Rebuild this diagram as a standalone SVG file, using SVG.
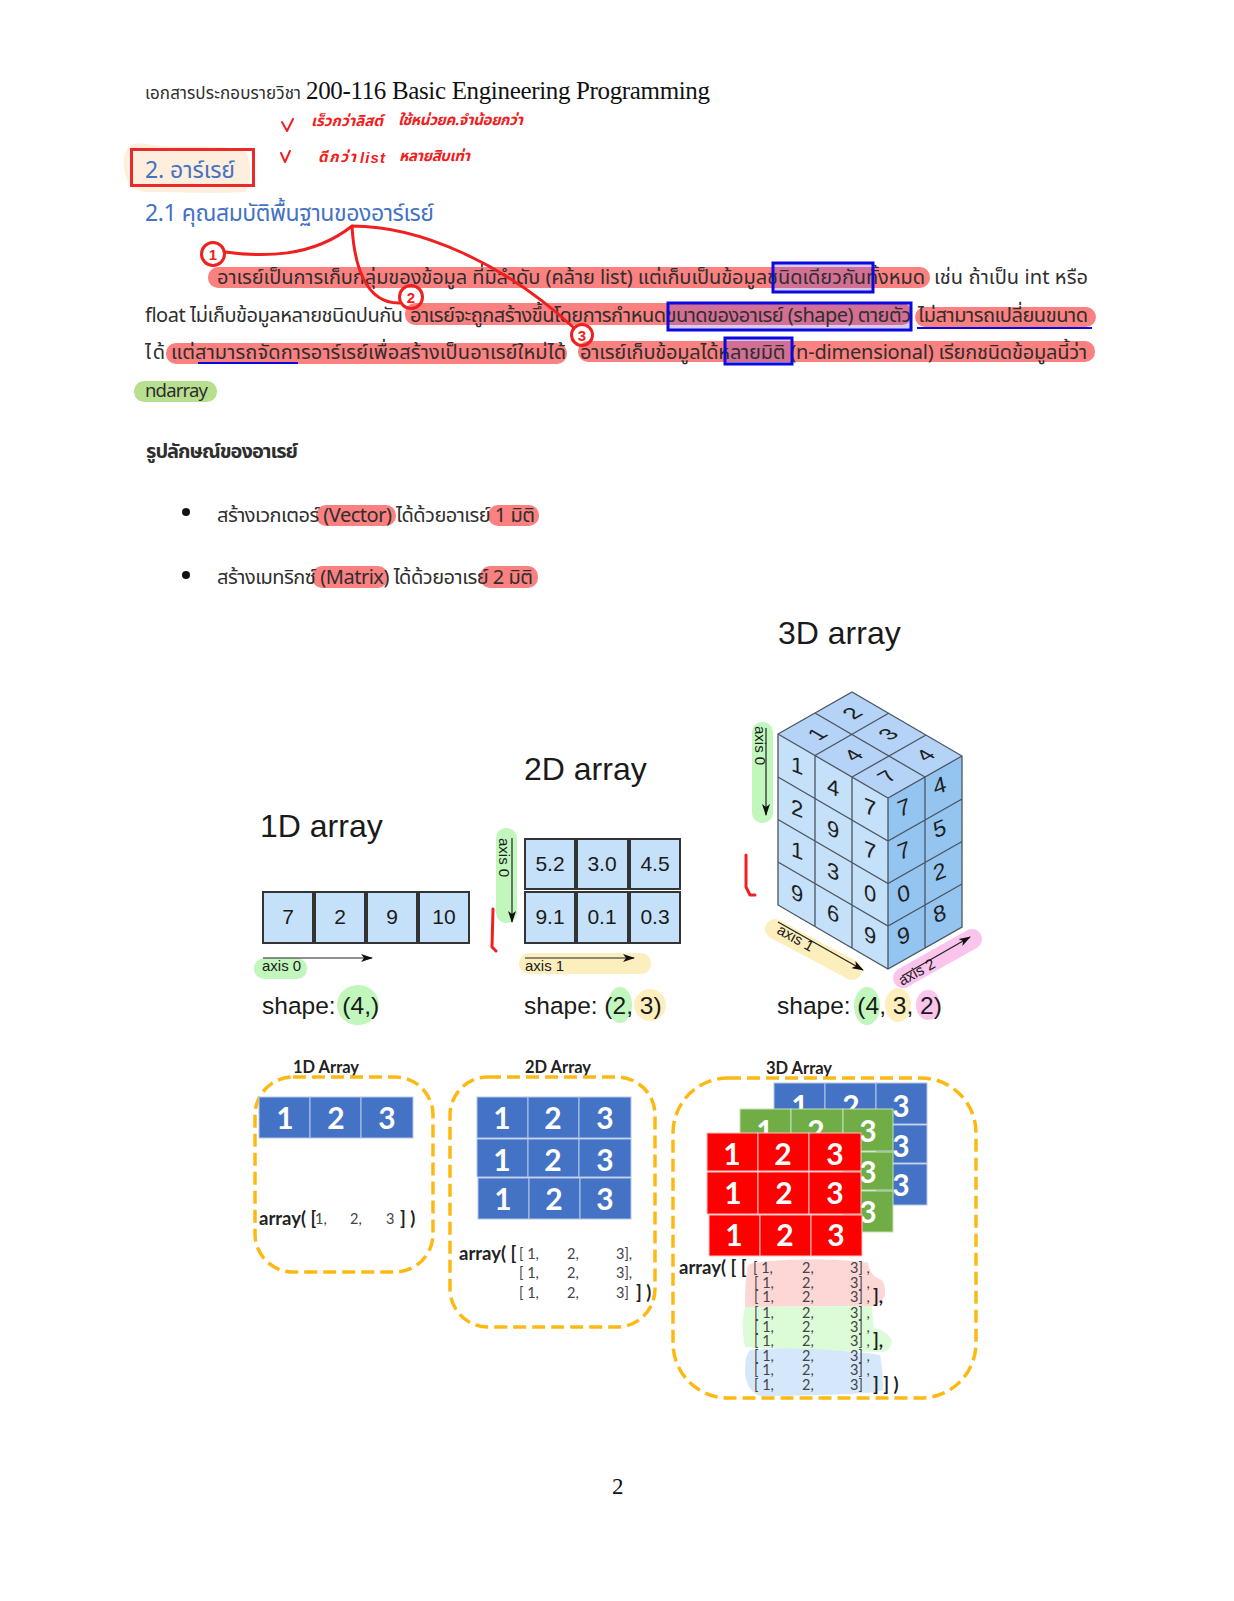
<svg xmlns="http://www.w3.org/2000/svg" width="1234" height="1601" viewBox="0 0 1234 1601">
<style>
text{font-family:"Noto Sans","Liberation Sans",sans-serif;fill:#2e2e2e}
.th{font-family:"Noto Sans Thai","Noto Sans","DejaVu Sans",sans-serif;font-size:20px}
.tm{font-family:"Liberation Serif",serif;fill:#111}
.ar{font-family:"Liberation Sans",sans-serif;fill:#1a1a1a}
.title{font-size:32px}
.shape{font-size:24.500px}
.ax{font-size:15px}
.num{font-size:21px;text-anchor:middle}
.cell{fill:#c5e0f9;stroke:#333;stroke-width:2}
.hl{fill:#fb8080}
.gr{fill:#c1f7bd}
.ye{fill:#fdefbd}
.pk{fill:#fac4ec}
.tint{fill:#6a46c8;fill-opacity:.28}
.bb{fill:none;stroke:#0a0ae0;stroke-width:3}
.ul{stroke:#0a0ae0;stroke-width:2;fill:none}
.red{stroke:#f02020;stroke-width:3;fill:none;stroke-linecap:round;stroke-linejoin:round}
.hw{font-family:"Noto Sans Thai","DejaVu Sans",sans-serif;fill:#f02020;font-size:15px;font-weight:700;font-style:italic}
.cn{font-family:"Liberation Sans",sans-serif;fill:#f02020;font-size:15px;font-weight:700;text-anchor:middle}
.ln{stroke:#222;stroke-width:1.2;fill:none;marker-end:url(#arr)}
.grid{stroke:#4b5560;stroke-width:1.3;fill:none}
.d3{font-size:22px;text-anchor:middle;font-family:"Liberation Sans",sans-serif;fill:#1f1f1f}
.dash{fill:none;stroke:#fdb913;stroke-width:3.5;stroke-dasharray:13 6}
.cap{font-family:Lato,"Liberation Sans",sans-serif;font-weight:700;font-size:16.500px;fill:#222}
.arr{font-family:Lato,"Liberation Sans",sans-serif;font-weight:700;font-size:18.500px;fill:#222}
.sm{font-family:Lato,"Liberation Sans",sans-serif;font-size:14.500px;fill:#444}
.b{fill:#4472c4;stroke:#b4c7e7;stroke-width:1}
.g{fill:#70ad47;stroke:#c5e0b4;stroke-width:1}
.r{fill:#ff0000;stroke:#ffc0c0;stroke-width:1}
.w{font-family:Lato,"Liberation Sans",sans-serif;font-weight:700;font-size:30px;fill:#fff;text-anchor:middle}
</style>
<defs>
<marker id="arr" viewBox="0 0 12 8" refX="11" refY="4" markerWidth="12" markerHeight="8" markerUnits="userSpaceOnUse" orient="auto"><path d="M0 0L12 4L0 8L3 4Z" fill="#111"/></marker>
</defs>

<g id="header">
<text class="th" x="145" y="99" style="font-size:17px" textLength="156">เอกสารประกอบรายวิชา</text>
<text class="tm" x="306" y="99" font-size="25" textLength="404">200-116 Basic Engineering Programming</text>
</g>

<g id="handwriting">
<path class="red" d="M282 122L287 131L293 119M281 153L285 162L290 151" style="stroke-width:2"/>
<text class="hw" x="311" y="126" textLength="72">เร็วกว่าลิสต์</text>
<text class="hw" x="398" y="125" textLength="125">ใช้หน่วยค.จำน้อยกว่า</text>
<text class="hw" x="318" y="162" textLength="38">ดีกว่า</text>
<text class="hw" x="360" y="163" textLength="25" style="font-family:'Liberation Sans',sans-serif">list</text>
<text class="hw" x="399" y="161" textLength="71">หลายสิบเท่า</text>
</g>

<g id="heading">
<path d="M124 166C122 146 134 142 146 144C180 150 220 142 246 152C252 165 252 180 246 192C210 194 170 192 145 192C130 190 125 180 124 166Z" fill="#fdeedd"/>
<rect x="131.500" y="149.500" width="122" height="36" fill="none" stroke="#ea2a2a" stroke-width="3"/>
<text class="th" x="145" y="178" style="font-size:23px;fill:#4472c4" textLength="90">2. อาร์เรย์</text>
<text class="th" x="145" y="221" style="font-size:23px;fill:#4472c4" textLength="289">2.1 คุณสมบัติพื้นฐานของอาร์เรย์</text>
</g>

<g id="highlights">
<rect class="hl" x="208" y="267" width="722" height="21" rx="10"/>
<rect class="hl" x="405" y="303" width="507" height="22" rx="10"/>
<rect class="hl" x="915" y="307" width="181" height="20" rx="10"/>
<rect class="hl" x="166" y="343" width="401" height="21" rx="10"/>
<rect class="hl" x="578" y="341" width="517" height="21" rx="10"/>
<rect x="134" y="381" width="83" height="21" rx="10" fill="#b8df90"/>
<rect class="hl" x="316" y="505" width="80" height="21" rx="10"/>
<rect class="hl" x="488" y="505" width="51" height="21" rx="10"/>
<rect class="hl" x="312" y="566" width="76" height="22" rx="10"/>
<rect class="hl" x="480" y="566" width="58" height="22" rx="10"/>
<rect class="tint" x="773" y="263" width="100" height="29"/>
<rect class="tint" x="668" y="303" width="243" height="27"/>
<rect class="tint" x="725" y="338" width="67" height="26"/>
</g>

<g id="paragraph">
<text class="th" x="217" y="284" textLength="708">อาเรย์เป็นการเก็บกลุ่มของข้อมูล ที่มีลำดับ (คล้าย list) แต่เก็บเป็นข้อมูลชนิดเดียวกันทั้งหมด</text>
<text class="th" x="934" y="284" textLength="154">เช่น ถ้าเป็น int หรือ</text>
<text class="th" x="145" y="322" textLength="258">float ไม่เก็บข้อมูลหลายชนิดปนกัน</text>
<text class="th" x="410" y="322" textLength="501">อาเรย์จะถูกสร้างขึ้นโดยการกำหนดขนาดของอาเรย์ (shape) ตายตัว</text>
<text class="th" x="918" y="322" textLength="170">ไม่สามารถเปลี่ยนขนาด</text>
<text class="th" x="145" y="359" textLength="20">ได้</text>
<text class="th" x="171" y="359" textLength="395">แต่สามารถจัดการอาร์เรย์เพื่อสร้างเป็นอาเรย์ใหม่ได้</text>
<text class="th" x="580" y="359" textLength="507">อาเรย์เก็บข้อมูลได้หลายมิติ (n-dimensional) เรียกชนิดข้อมูลนี้ว่า</text>
<text class="th" x="145" y="397" style="font-size:18.500px" textLength="63">ndarray</text>
</g>

<g id="annotations">
<rect class="bb" x="773" y="263" width="100" height="29"/>
<rect class="bb" x="668" y="303" width="243" height="27"/>
<rect class="bb" x="725" y="338" width="67" height="26"/>
<path class="ul" d="M917 328H1092M198 363H298"/>
<path class="red" d="M225 252C262 257 312 258 352 226C354 262 364 304 400 303M352 226C420 226 503 263 573 327"/>
<circle class="red" cx="213" cy="254" r="11.500"/>
<circle class="red" cx="411" cy="297" r="11.500"/>
<circle class="red" cx="582" cy="335" r="10.500"/>
<text class="cn" x="213" y="260">1</text>
<text class="cn" x="411" y="303">2</text>
<text class="cn" x="582" y="341">3</text>
</g>

<g id="features">
<text class="th" x="145" y="458" style="font-weight:700" textLength="152">รูปลักษณ์ของอาเรย์</text>
<circle cx="186" cy="512" r="4" fill="#111"/>
<text class="th" x="217" y="522" textLength="318">สร้างเวกเตอร์ (Vector) ได้ด้วยอาเรย์ 1 มิติ</text>
<circle cx="186" cy="575" r="4" fill="#111"/>
<text class="th" x="217" y="584" textLength="316">สร้างเมทริกซ์ (Matrix) ได้ด้วยอาเรย์ 2 มิติ</text>
</g>

<g id="array-1d">
<text class="ar title" x="260" y="837">1D array</text>
<rect class="cell" x="263" y="892" width="50" height="51"/><rect class="cell" x="315" y="892" width="50" height="51"/><rect class="cell" x="367" y="892" width="50" height="51"/><rect class="cell" x="419" y="892" width="50" height="51"/>
<text class="ar num" x="288" y="924">7</text><text class="ar num" x="340" y="924">2</text><text class="ar num" x="392" y="924">9</text><text class="ar num" x="444" y="924">10</text>
<rect class="gr" x="254" y="958" width="53" height="21" rx="10"/>
<path class="ln" d="M263 958H372"/>
<text class="ar ax" x="262" y="971">axis 0</text>
<ellipse class="gr" cx="358" cy="1005" rx="21" ry="20"/>
<text class="ar shape" x="262" y="1014">shape: (4,)</text>
</g>

<g id="array-2d">
<text class="ar title" x="524" y="780">2D array</text>
<rect class="cell" x="525" y="839" width="50" height="50"/><rect class="cell" x="577" y="839" width="51" height="50"/><rect class="cell" x="630" y="839" width="50" height="50"/>
<rect class="cell" x="525" y="892" width="50" height="51"/><rect class="cell" x="577" y="892" width="51" height="51"/><rect class="cell" x="630" y="892" width="50" height="51"/>
<text class="ar num" x="550" y="871">5.2</text><text class="ar num" x="602" y="871">3.0</text><text class="ar num" x="655" y="871">4.5</text>
<text class="ar num" x="550" y="924">9.1</text><text class="ar num" x="602" y="924">0.1</text><text class="ar num" x="655" y="924">0.3</text>
<rect class="gr" x="496" y="828" width="21" height="95" rx="10"/>
<path class="ln" d="M512 838V922"/>
<text class="ar ax" transform="translate(499 838) rotate(90)">axis 0</text>
<path class="red" d="M493 909L492 947L496 951"/>
<rect class="ye" x="519" y="953" width="132" height="21" rx="10"/>
<path class="ln" d="M525 958H634"/>
<text class="ar ax" x="525" y="971">axis 1</text>
<ellipse class="gr" cx="620" cy="1005" rx="12" ry="18"/>
<ellipse class="ye" cx="650" cy="1005" rx="16" ry="16"/>
<text class="ar shape" x="524" y="1014">shape: (2, 3)</text>
</g>

<g id="array-3d">
<text class="ar title" x="778" y="644">3D array</text>
<polygon points="778,734 888,798 888,969 778,905" fill="#c5e0f9"/>
<polygon points="888,798 962,756 962,927 888,969" fill="#94c4f0"/>
<polygon points="778,734 852,692 962,756 888,798" fill="#b5d3f7"/>
<path class="grid" d="M778 734L852 692L962 756L962 927L888 969L778 905ZM888 798V969M778 734L888 798L962 756M815 755.500V926.500M852 777V948M778 777L888 841L962 799M778 819.500L888 883.500L962 841.500M778 862L888 926L962 884M925 777V948M815 713L925 777M815 755.500L889 713M852 777L926 735"/>
<g>
<text class="d3" transform="matrix(1 .4 0 1 797 773)">1</text><text class="d3" transform="matrix(1 .4 0 1 797 816)">2</text><text class="d3" transform="matrix(1 .4 0 1 797 858)">1</text><text class="d3" transform="matrix(1 .4 0 1 797 901)">9</text>
<text class="d3" transform="matrix(1 .4 0 1 833 795)">4</text><text class="d3" transform="matrix(1 .4 0 1 833 837)">9</text><text class="d3" transform="matrix(1 .4 0 1 833 879)">3</text><text class="d3" transform="matrix(1 .4 0 1 833 921)">6</text>
<text class="d3" transform="matrix(1 .4 0 1 870 815)">7</text><text class="d3" transform="matrix(1 .4 0 1 870 858)">7</text><text class="d3" transform="matrix(1 .4 0 1 870 901)">0</text><text class="d3" transform="matrix(1 .4 0 1 870 943)">9</text>
<text class="d3" transform="matrix(1 -.4 .2 1 905 815)">7</text><text class="d3" transform="matrix(1 -.4 .2 1 905 858)">7</text><text class="d3" transform="matrix(1 -.4 .2 1 905 901)">0</text><text class="d3" transform="matrix(1 -.4 .2 1 905 943)">9</text>
<text class="d3" transform="matrix(1 -.4 .2 1 941 793)">4</text><text class="d3" transform="matrix(1 -.4 .2 1 941 836)">5</text><text class="d3" transform="matrix(1 -.4 .2 1 941 879)">2</text><text class="d3" transform="matrix(1 -.4 .2 1 941 921)">8</text>
<text class="d3" dy=".35em" transform="matrix(.87 -.5 .87 .5 817 734)">1</text><text class="d3" dy=".35em" transform="matrix(.87 -.5 .87 .5 852 713)">2</text><text class="d3" dy=".35em" transform="matrix(.87 -.5 .87 .5 853 755)">4</text><text class="d3" dy=".35em" transform="matrix(.87 -.5 .87 .5 888 734)">3</text><text class="d3" dy=".35em" transform="matrix(.87 -.5 .87 .5 887 776)">7</text><text class="d3" dy=".35em" transform="matrix(.87 -.5 .87 .5 925 755)">4</text>
</g>
<rect class="gr" x="752" y="722" width="21" height="101" rx="10"/>
<path class="ln" d="M766 728V815"/>
<text class="ar ax" transform="translate(755 726) rotate(90)">axis 0</text>
<path class="red" d="M746 855V887L750 895H755"/>
<path d="M775 929L852 970" stroke="#fdefbd" stroke-width="20" stroke-linecap="round" fill="none"/>
<path d="M903 978L972 939" stroke="#fac4ec" stroke-width="20" stroke-linecap="round" fill="none"/>
<path class="ln" d="M778 922L863 970"/>
<path class="ln" d="M902 976L970 937"/>
<text class="ar ax" transform="translate(776 933) rotate(29)">axis 1</text>
<text class="ar ax" transform="translate(902 986) rotate(-29)">axis 2</text>
<ellipse class="gr" cx="867" cy="1006" rx="13" ry="19"/>
<ellipse class="ye" cx="898" cy="1005" rx="13" ry="17"/>
<ellipse class="pk" cx="928" cy="1005" rx="12" ry="15"/>
<text class="ar shape" x="777" y="1014">shape: (4, 3, 2)</text>
</g>

<g id="numpy-1d">
<text class="cap" x="293" y="1073">1D Array</text>
<rect class="dash" x="255" y="1077" width="178" height="195" rx="38"/>
<rect class="b" x="259" y="1097" width="51" height="41"/><rect class="b" x="310" y="1097" width="51" height="41"/><rect class="b" x="361" y="1097" width="52" height="41"/>
<text class="w" x="285" y="1129">1</text><text class="w" x="336" y="1129">2</text><text class="w" x="387" y="1129">3</text>
<text class="arr" x="259" y="1225">array( [</text>
<text class="sm" x="315" y="1224">1,</text><text class="sm" x="350" y="1224">2,</text><text class="sm" x="386" y="1224">3</text>
<text class="arr" x="400" y="1225">] )</text>
</g>

<g id="numpy-2d">
<text class="cap" x="525" y="1073">2D Array</text>
<rect class="dash" x="450" y="1077" width="205" height="250" rx="38"/>
<rect class="b" x="477" y="1097" width="51" height="41"/><rect class="b" x="528" y="1097" width="51" height="41"/><rect class="b" x="579" y="1097" width="52" height="41"/>
<rect class="b" x="477" y="1139" width="51" height="38"/><rect class="b" x="528" y="1139" width="51" height="38"/><rect class="b" x="579" y="1139" width="52" height="38"/>
<rect class="b" x="478" y="1178" width="51" height="41"/><rect class="b" x="529" y="1178" width="51" height="41"/><rect class="b" x="580" y="1178" width="51" height="41"/>
<text class="w" x="502" y="1129">1</text><text class="w" x="553" y="1129">2</text><text class="w" x="605" y="1129">3</text>
<text class="w" x="502" y="1171">1</text><text class="w" x="553" y="1171">2</text><text class="w" x="605" y="1171">3</text>
<text class="w" x="503" y="1210">1</text><text class="w" x="554" y="1210">2</text><text class="w" x="605" y="1210">3</text>
<text class="arr" x="459" y="1260">array( [</text>
<text class="sm" x="519" y="1259">[ 1,</text><text class="sm" x="567" y="1259">2,</text><text class="sm" x="616" y="1259">3],</text>
<text class="sm" x="519" y="1278">[ 1,</text><text class="sm" x="567" y="1278">2,</text><text class="sm" x="616" y="1278">3],</text>
<text class="sm" x="519" y="1298">[ 1,</text><text class="sm" x="567" y="1298">2,</text><text class="sm" x="616" y="1298">3]</text>
<text class="arr" x="636" y="1299">] )</text>
</g>

<g id="numpy-3d">
<text class="cap" x="766" y="1074">3D Array</text>
<rect class="dash" x="673" y="1078" width="303" height="320" rx="55"/>
<rect class="b" x="774" y="1083" width="51" height="41"/><rect class="b" x="825" y="1083" width="51" height="41"/><rect class="b" x="876" y="1083" width="51" height="41"/>
<rect class="b" x="876" y="1125" width="51" height="38"/><rect class="b" x="876" y="1164" width="51" height="41"/>
<text class="w" x="800" y="1117">1</text><text class="w" x="851" y="1117">2</text><text class="w" x="901" y="1117">3</text>
<text class="w" x="901" y="1157">3</text><text class="w" x="901" y="1196">3</text>
<rect class="g" x="740" y="1109" width="51" height="42"/><rect class="g" x="791" y="1109" width="52" height="42"/><rect class="g" x="843" y="1109" width="50" height="42"/>
<rect class="g" x="843" y="1152" width="50" height="38"/><rect class="g" x="843" y="1191" width="50" height="41"/>
<text class="w" x="765" y="1142">1</text><text class="w" x="816" y="1142">2</text><text class="w" x="868" y="1142">3</text>
<text class="w" x="868" y="1183">3</text><text class="w" x="868" y="1223">3</text>
<rect class="r" x="707" y="1133" width="51" height="38"/><rect class="r" x="758" y="1133" width="51" height="38"/><rect class="r" x="809" y="1133" width="52" height="38"/>
<rect class="r" x="707" y="1172" width="51" height="42"/><rect class="r" x="758" y="1172" width="51" height="42"/><rect class="r" x="809" y="1172" width="52" height="42"/>
<rect class="r" x="709" y="1215" width="51" height="41"/><rect class="r" x="760" y="1215" width="51" height="41"/><rect class="r" x="811" y="1215" width="51" height="41"/>
<text class="w" x="732" y="1165">1</text><text class="w" x="783" y="1165">2</text><text class="w" x="835" y="1165">3</text>
<text class="w" x="733" y="1204">1</text><text class="w" x="784" y="1204">2</text><text class="w" x="835" y="1204">3</text>
<text class="w" x="734" y="1246">1</text><text class="w" x="785" y="1246">2</text><text class="w" x="836" y="1246">3</text>
<path d="M748 1265C760 1258 850 1258 868 1263Q870 1276 880 1279Q886 1282 885 1296Q880 1305 872 1306L745 1307Q745 1280 748 1265Z" fill="#fdd6d6"/>
<path d="M745 1307L872 1306Q873 1325 874 1328Q890 1332 892 1342Q890 1352 880 1352Q800 1350 745 1347Q740 1325 745 1307Z" fill="#dcfcd8"/>
<path d="M750 1350Q800 1345 880 1355Q883 1370 883 1390Q875 1395 760 1396Q745 1390 745 1370Q745 1355 750 1350Z" fill="#d5e8fb"/>
<text class="arr" x="679" y="1274">array( [ [</text>
<g>
<text class="sm" x="753" y="1273">[ 1,</text><text class="sm" x="802" y="1273">2,</text><text class="sm" x="850" y="1273">3] ,</text>
<text class="sm" x="754" y="1288">[ 1,</text><text class="sm" x="802" y="1288">2,</text><text class="sm" x="850" y="1288">3] ,</text>
<text class="sm" x="754" y="1302">[ 1,</text><text class="sm" x="802" y="1302">2,</text><text class="sm" x="850" y="1302">3] ,</text>
<text class="sm" x="754" y="1318">[ 1,</text><text class="sm" x="802" y="1318">2,</text><text class="sm" x="850" y="1318">3] ,</text>
<text class="sm" x="754" y="1332">[ 1,</text><text class="sm" x="802" y="1332">2,</text><text class="sm" x="850" y="1332">3] ,</text>
<text class="sm" x="754" y="1346">[ 1,</text><text class="sm" x="802" y="1346">2,</text><text class="sm" x="850" y="1346">3] ,</text>
<text class="sm" x="754" y="1361">[ 1,</text><text class="sm" x="802" y="1361">2,</text><text class="sm" x="850" y="1361">3] ,</text>
<text class="sm" x="754" y="1375">[ 1,</text><text class="sm" x="802" y="1375">2,</text><text class="sm" x="850" y="1375">3] ,</text>
<text class="sm" x="754" y="1390">[ 1,</text><text class="sm" x="802" y="1390">2,</text><text class="sm" x="850" y="1390">3]</text>
</g>
<text class="arr" x="873" y="1303">],</text>
<text class="arr" x="873" y="1347">],</text>
<text class="arr" x="873" y="1391">] ] )</text>
</g>

<g id="page-number"><text class="tm" x="612" y="1494" font-size="23">2</text></g>
</svg>
